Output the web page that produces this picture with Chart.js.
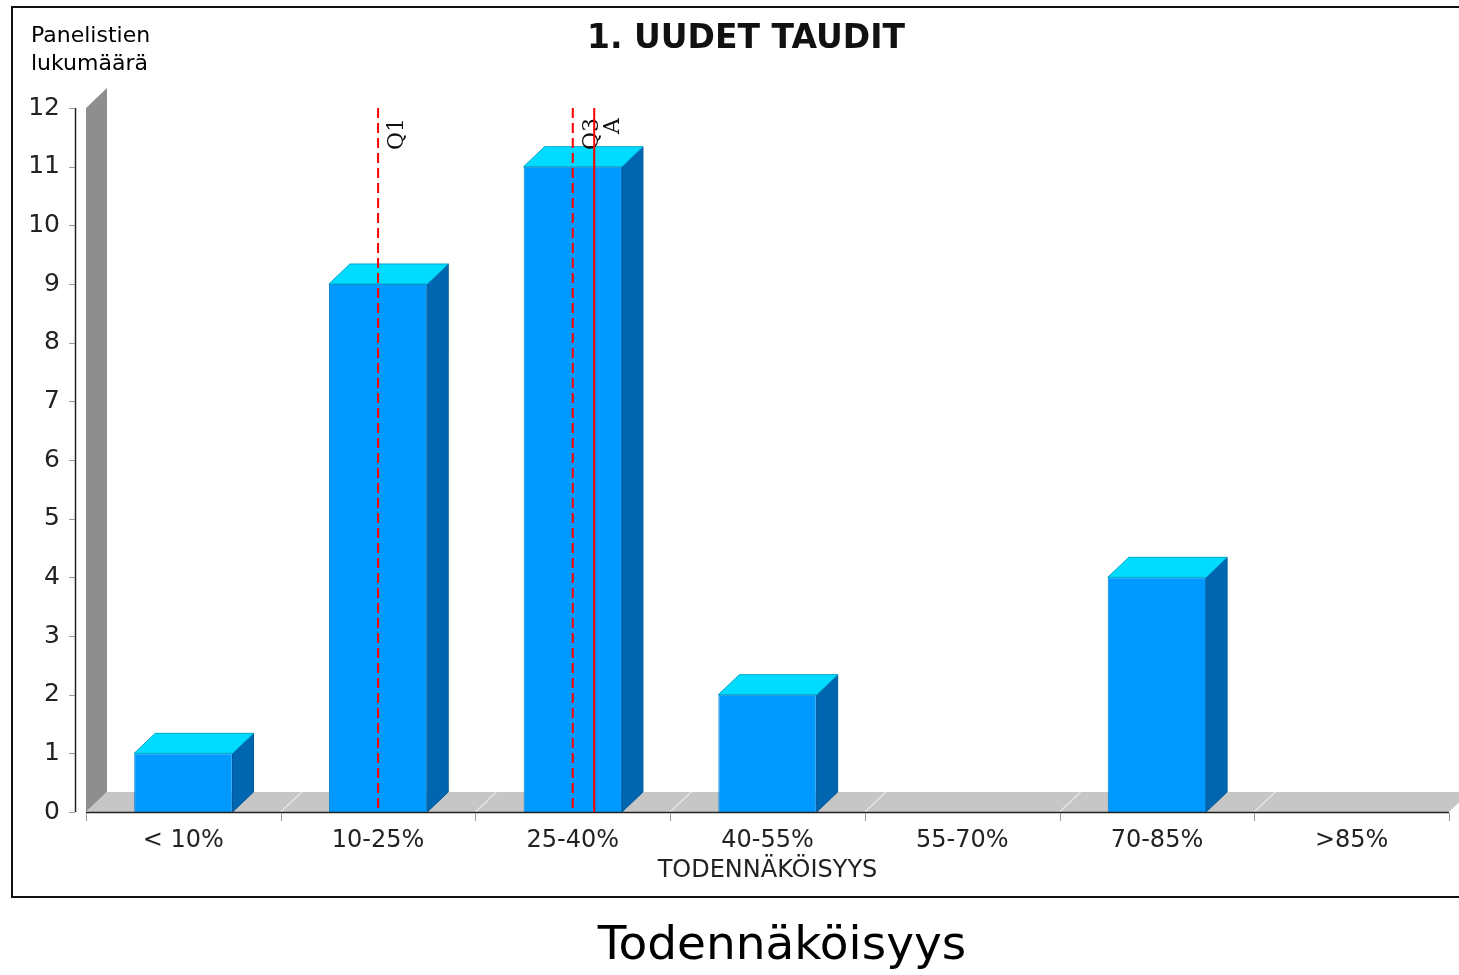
<!DOCTYPE html>
<html>
<head>
<meta charset="utf-8">
<script src="https://cdn.jsdelivr.net/npm/chart.js@4/dist/chart.umd.min.js"></script>
<style>
  body { margin: 0; background: #fff; }
  #wrap { width: 1459px; height: 975px; }
</style>
</head>
<body>
<div id="wrap"><canvas id="probChart" width="1459" height="975"></canvas></div>
<script>
const categories = ['< 10%', '10-25%', '25-40%', '40-55%', '55-70%', '70-85%', '>85%'];
const panelistCounts = [1, 9, 11, 2, 0, 4, 0];
const yMax = 12;

// quartile / answer markers, in category index units
const markerLabels = ['Q1', 'Q3', 'A'];
const markerPositions = [1, 2, 2.11];
const markerDashed = [true, true, false];

const chartTitle = '1. UUDET TAUDIT';
const yTitle = ['Panelistien', 'lukumäärä'];
const xTitle = 'TODENNÄKÖISYYS';
const caption = 'Todennäköisyys';

const depthX = 21;
const depthY = 20;

const barFront = '#0099ff';
const barTop = '#00dcff';
const barSide = '#0066b0';

function poly(ctx, pts, fill, stroke) {
  ctx.beginPath();
  ctx.moveTo(pts[0][0], pts[0][1]);
  for (let i = 1; i < pts.length; i++) ctx.lineTo(pts[i][0], pts[i][1]);
  ctx.closePath();
  ctx.fillStyle = fill;
  ctx.fill();
  if (stroke) {
    ctx.strokeStyle = stroke;
    ctx.lineWidth = 1;
    ctx.stroke();
  }
}

const threeD = {
  id: 'threeD',
  beforeDraw(chart) {
    const { ctx, width, height } = chart;
    ctx.save();
    ctx.fillStyle = '#fff';
    ctx.fillRect(0, 0, width, height);
    ctx.strokeStyle = '#111';
    ctx.lineWidth = 2;
    ctx.strokeRect(12, 7, width + 20, 890);
    ctx.restore();
  },
  beforeDatasetsDraw(chart) {
    const { ctx, chartArea: a, scales } = chart;
    ctx.save();
    // back wall
    poly(ctx, [[a.left, a.top], [a.left + depthX, a.top - depthY], [a.left + depthX, a.bottom - depthY], [a.left, a.bottom]], '#8e8e8e');
    // floor
    poly(ctx, [[a.left, a.bottom], [a.left + depthX, a.bottom - depthY], [a.right + depthX, a.bottom - depthY], [a.right, a.bottom]], '#c6c6c6');
    // floor separators at category boundaries
    ctx.strokeStyle = '#e6e6e6';
    ctx.lineWidth = 1.5;
    for (let i = 1; i < categories.length; i++) {
      const x = scales.x.getPixelForValue(i - 0.5);
      ctx.beginPath();
      ctx.moveTo(x, a.bottom);
      ctx.lineTo(x + depthX, a.bottom - depthY);
      ctx.stroke();
    }
    ctx.restore();
  },
  afterDatasetsDraw(chart) {
    const { ctx, chartArea: a, scales } = chart;
    ctx.save();
    chart.getDatasetMeta(0).data.forEach((bar, i) => {
      if (!panelistCounts[i]) return;
      const { x, y, base, width } = bar.getProps(['x', 'y', 'base', 'width'], true);
      const l = x - width / 2;
      const r = x + width / 2;
      poly(ctx, [[r, y], [r + depthX, y - depthY], [r + depthX, base - depthY], [r, base]], barSide, '#005a9c');
      poly(ctx, [[l, y], [l + depthX, y - depthY], [r + depthX, y - depthY], [r, y]], barTop, '#00a8cc');
    });

    // axes
    ctx.strokeStyle = '#222';
    ctx.lineWidth = 1.5;
    ctx.beginPath();
    ctx.moveTo(a.left - 10.5, a.top);
    ctx.lineTo(a.left - 10.5, a.bottom);
    ctx.moveTo(a.left, a.bottom + 0.5);
    ctx.lineTo(a.right, a.bottom + 0.5);
    ctx.stroke();
    ctx.strokeStyle = '#999';
    ctx.lineWidth = 1;
    scales.y.ticks.forEach(t => {
      const yy = Math.round(scales.y.getPixelForValue(t.value)) + 0.5;
      ctx.beginPath();
      ctx.moveTo(a.left - 17, yy);
      ctx.lineTo(a.left - 11, yy);
      ctx.stroke();
    });
    for (let i = 0; i <= categories.length; i++) {
      const xx = Math.round(scales.x.getPixelForValue(i - 0.5)) + 0.5;
      ctx.beginPath();
      ctx.moveTo(xx, a.bottom + 1);
      ctx.lineTo(xx, a.bottom + 9);
      ctx.stroke();
    }

    // markers
    ctx.strokeStyle = '#ff0000';
    ctx.lineWidth = 2;
    ctx.font = '22px "DejaVu Serif"';
    ctx.fillStyle = '#111';
    markerPositions.forEach((p, i) => {
      const xx = scales.x.getPixelForValue(p);
      ctx.setLineDash(markerDashed[i] ? [10, 5] : []);
      ctx.beginPath();
      ctx.moveTo(xx, a.top);
      ctx.lineTo(xx, a.bottom);
      ctx.stroke();
      ctx.setLineDash([]);
      ctx.save();
      ctx.translate(xx + 25, a.top + 10);
      ctx.rotate(-Math.PI / 2);
      ctx.textAlign = 'right';
      ctx.textBaseline = 'alphabetic';
      ctx.fillText(markerLabels[i], 0, 0);
      ctx.restore();
    });
    ctx.restore();
  },
  afterDraw(chart) {
    const { ctx, chartArea: a } = chart;
    ctx.save();
    ctx.fillStyle = '#111';
    ctx.textBaseline = 'middle';
    ctx.textAlign = 'center';
    ctx.font = 'bold 33px "DejaVu Sans"';
    ctx.fillText(chartTitle, 746, 39);
    ctx.font = '24px "DejaVu Sans"';
    ctx.fillStyle = '#222';
    ctx.fillText(xTitle, (a.left + a.right) / 2, 871);
    ctx.font = '47px "DejaVu Sans"';
    ctx.fillStyle = '#000';
    ctx.fillText(caption, 782, 947);
    ctx.textAlign = 'left';
    ctx.font = '22px "DejaVu Sans"';
    ctx.fillText(yTitle[0], 31, 36);
    ctx.fillText(yTitle[1], 31, 64);
    ctx.restore();
  }
};

new Chart(document.getElementById('probChart'), {
  type: 'bar',
  data: {
    labels: categories,
    datasets: [{
      data: panelistCounts,
      backgroundColor: barFront,
      borderColor: '#0080d0',
      borderWidth: ctx => (ctx.raw > 0 ? 1 : 0),
      borderSkipped: 'bottom',
      barPercentage: 0.505,
      categoryPercentage: 1
    }]
  },
  plugins: [threeD],
  options: {
    responsive: false,
    animation: false,
    layout: { padding: { left: 0, right: 10, top: 108, bottom: 0 } },
    plugins: {
      legend: { display: false },
      title: { display: false },
      tooltip: { enabled: false }
    },
    scales: {
      x: {
        grid: { display: false, drawTicks: false },
        border: { display: false },
        ticks: { color: '#222', font: { family: 'DejaVu Sans', size: 24 }, padding: 14, maxRotation: 0 },
        afterFit: s => { s.height = 163; }
      },
      y: {
        min: 0,
        max: yMax,
        grid: { display: false, drawTicks: false },
        border: { display: false },
        ticks: { stepSize: 1, color: '#222', font: { family: 'DejaVu Sans', size: 25 }, padding: 26 },
        afterFit: s => { s.width = 86; }
      }
    }
  }
});
</script>
</body>
</html>
